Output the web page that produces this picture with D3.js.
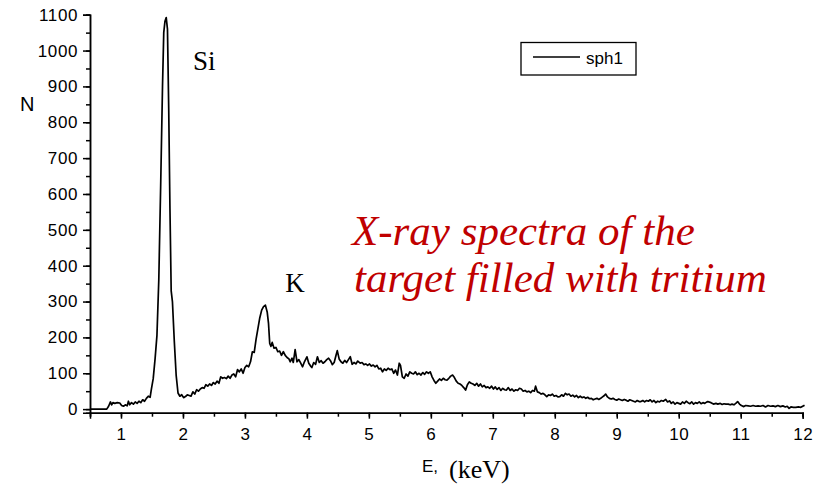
<html>
<head>
  <script type="text/javascript" src="https://cdn.jsdelivr.net/npm/d3@7"></script>
  <style>
  body { margin: 0; background: #fff; }
  .tick text { font-family: "Liberation Sans", Arial, sans-serif; font-size: 17px; letter-spacing: 0.6px; fill: #000; }
  .domain, .tick line { stroke: #000; stroke-width: 1.5; }
  </style>
</head>
<body>

<script type="text/javascript">
// energy (keV) and counts
var energy = [
  0.50, 0.60, 0.70, 0.77, 0.80, 0.83, 0.85, 0.87, 0.90, 0.94, 0.98, 1.01, 1.04, 1.07, 1.10, 1.12, 1.14, 1.17, 1.20, 1.23,
  1.26, 1.29, 1.32, 1.35, 1.38, 1.41, 1.44, 1.47, 1.49, 1.52, 1.55, 1.58, 1.61, 1.64, 1.67, 1.69, 1.71, 1.73, 1.75, 1.77,
  1.79, 1.81, 1.83, 1.86, 1.89, 1.92, 1.95, 1.98, 2.01, 2.04, 2.07, 2.10, 2.13, 2.16, 2.19, 2.22, 2.25, 2.28, 2.31, 2.34,
  2.37, 2.40, 2.43, 2.46, 2.49, 2.52, 2.55, 2.58, 2.61, 2.64, 2.67, 2.70, 2.73, 2.76, 2.79, 2.82, 2.85, 2.88, 2.91, 2.94,
  2.97, 3.00, 3.03, 3.06, 3.09, 3.12, 3.15, 3.18, 3.21, 3.24, 3.27, 3.30, 3.33, 3.36, 3.38, 3.40, 3.42, 3.44, 3.47, 3.50,
  3.53, 3.56, 3.59, 3.62, 3.65, 3.68, 3.71, 3.73, 3.76, 3.78, 3.81, 3.84, 3.87, 3.90, 3.93, 3.96, 4.00, 4.03, 4.06, 4.08,
  4.11, 4.14, 4.17, 4.20, 4.23, 4.26, 4.29, 4.32, 4.35, 4.38, 4.41, 4.44, 4.47, 4.49, 4.52, 4.55, 4.58, 4.61, 4.64, 4.67,
  4.70, 4.73, 4.76, 4.79, 4.82, 4.86, 4.89, 4.92, 4.95, 4.98, 5.01, 5.04, 5.07, 5.10, 5.13, 5.16, 5.19, 5.22, 5.25, 5.28,
  5.31, 5.34, 5.37, 5.40, 5.43, 5.46, 5.49, 5.51, 5.54, 5.57, 5.60, 5.63, 5.66, 5.69, 5.72, 5.75, 5.78, 5.81, 5.84, 5.87,
  5.90, 5.93, 5.96, 5.99, 6.02, 6.05, 6.08, 6.11, 6.14, 6.17, 6.20, 6.23, 6.26, 6.29, 6.32, 6.35, 6.38, 6.41, 6.44, 6.47,
  6.50, 6.53, 6.56, 6.59, 6.62, 6.65, 6.68, 6.71, 6.74, 6.77, 6.80, 6.83, 6.86, 6.89, 6.92, 6.95, 6.98, 7.01, 7.04, 7.07,
  7.10, 7.13, 7.16, 7.19, 7.22, 7.25, 7.28, 7.31, 7.34, 7.37, 7.40, 7.43, 7.46, 7.49, 7.52, 7.55, 7.58, 7.61, 7.64, 7.67,
  7.69, 7.72, 7.75, 7.78, 7.81, 7.84, 7.87, 7.90, 7.93, 7.96, 7.99, 8.02, 8.05, 8.08, 8.11, 8.14, 8.17, 8.20, 8.23, 8.26,
  8.29, 8.32, 8.35, 8.38, 8.41, 8.44, 8.47, 8.50, 8.53, 8.56, 8.59, 8.62, 8.65, 8.68, 8.71, 8.74, 8.77, 8.80, 8.82, 8.85,
  8.88, 8.91, 8.94, 8.97, 9.00, 9.03, 9.06, 9.09, 9.12, 9.15, 9.18, 9.21, 9.24, 9.27, 9.30, 9.33, 9.36, 9.39, 9.42, 9.45,
  9.48, 9.51, 9.54, 9.57, 9.60, 9.63, 9.66, 9.69, 9.72, 9.75, 9.79, 9.82, 9.85, 9.88, 9.91, 9.94, 9.97, 10.00, 10.03, 10.06,
  10.09, 10.12, 10.15, 10.18, 10.21, 10.24, 10.27, 10.30, 10.33, 10.36, 10.39, 10.42, 10.46, 10.49, 10.52, 10.56, 10.60, 10.63, 10.67, 10.70,
  10.73, 10.76, 10.80, 10.83, 10.86, 10.89, 10.92, 10.95, 10.98, 11.01, 11.05, 11.08, 11.12, 11.16, 11.20, 11.24, 11.28, 11.32, 11.36, 11.40,
  11.44, 11.48, 11.52, 11.56, 11.60, 11.64, 11.68, 11.72, 11.75, 11.78, 11.81, 11.85, 11.89, 11.93, 11.97, 12.00, 12.03
];
var counts = [
  0, 0, 0, 0, 8, 20, 12, 18, 16, 18, 17, 10, 8, 12, 9, 22, 12, 18, 14, 20,
  16, 22, 18, 26, 22, 30, 36, 33, 55, 85, 140, 205, 360, 620, 900, 1050, 1082, 1092, 1060, 840,
  560, 330, 300, 190, 95, 45, 36, 40, 32, 35, 40, 38, 36, 48, 42, 54, 50, 56, 60, 58,
  68, 64, 70, 66, 74, 70, 78, 72, 90, 86, 88, 85, 92, 86, 95, 98, 90, 110, 104, 112,
  100, 116, 122, 118, 132, 160, 158, 195, 225, 255, 276, 286, 290, 270, 240, 183, 175, 186, 170, 172,
  160, 162, 150, 160, 150, 144, 140, 132, 142, 130, 166, 132, 138, 128, 118, 132, 146, 128, 120, 116,
  130, 125, 146, 130, 135, 128, 132, 138, 142, 135, 124, 130, 150, 163, 140, 132, 128, 136, 130, 138,
  146, 125, 130, 126, 134, 128, 130, 124, 126, 122, 126, 120, 123, 118, 122, 112, 114, 104, 112, 108,
  114, 110, 112, 100, 109, 95, 128, 122, 90, 86, 98, 92, 104, 100, 98, 104, 96, 100, 95, 102,
  97, 104, 100, 104, 90, 80, 72, 78, 84, 80, 86, 82, 81, 86, 92, 95, 88, 78, 72, 70,
  66, 60, 53, 68, 76, 72, 70, 66, 72, 64, 70, 62, 66, 60, 62, 58, 64, 56, 62, 55,
  60, 52, 58, 54, 53, 60, 52, 56, 50, 54, 52, 58, 56, 50, 52, 48, 50, 46, 52, 50,
  64, 48, 46, 42, 44, 40, 35, 40, 38, 42, 36, 38, 34, 35, 40, 36, 44, 40, 42, 36,
  39, 34, 38, 32, 36, 32, 34, 30, 33, 29, 30, 26, 28, 30, 27, 30, 34, 38, 42, 34,
  30, 28, 30, 27, 25, 28, 26, 24, 27, 25, 22, 26, 24, 22, 20, 24, 21, 21, 24, 20,
  24, 22, 26, 20, 24, 18, 22, 20, 24, 22, 27, 20, 23, 16, 20, 14, 18, 16, 14, 20,
  16, 22, 18, 15, 20, 14, 18, 16, 20, 15, 18, 16, 21, 20, 18, 14, 16, 14, 16, 13,
  15, 14, 14, 12, 14, 12, 16, 21, 14, 10, 7, 10, 9, 8, 10, 8, 9, 8, 10, 6,
  10, 8, 9, 7, 10, 7, 9, 6, 8, 2, 6, 5, 5, 6, 5, 8, 11
];
var xTicks = [1, 2, 3, 4, 5, 6, 7, 8, 9, 10, 11, 12];
var yTicks = [0, 100, 200, 300, 400, 500, 600, 700, 800, 900, 1000, 1100];
var seriesName = "sph1";
var peakLabels = [{name: "Si", e: 2.16, n: 946}, {name: "K", e: 3.65, n: 327}];
var titleLines = ["X-ray spectra of the", "target filled with tritium"];

var W = 816, H = 486;
var plotLeft = 90, plotRight = 802.7, plotTop = 14.7, plotBottom = 412.7;

var svg = d3.select("body").append("svg")
    .attr("width", W)
    .attr("height", H);

var x = d3.scaleLinear().domain([0.5, 12]).range([plotLeft, plotRight]);
var y = d3.scaleLinear().domain([-10, 1100]).range([plotBottom, plotTop]);

// minor ticks first, then the major axis with labels
var xMinor = d3.range(0.5, 12.01, 0.5);
var yMinor = d3.range(0, 1101, 50);

svg.append("g")
    .attr("transform", "translate(0," + plotBottom + ")")
    .call(d3.axisBottom(x).tickValues(xMinor).tickSize(4).tickFormat(""));
svg.append("g")
    .attr("transform", "translate(0," + plotBottom + ")")
    .call(d3.axisBottom(x).tickValues(xTicks).tickSize(6).tickPadding(9).tickFormat(d3.format("d")));

svg.append("g")
    .attr("transform", "translate(" + plotLeft + ",0)")
    .call(d3.axisLeft(y).tickValues(yMinor).tickSize(4).tickFormat(""));
svg.append("g")
    .attr("transform", "translate(" + plotLeft + ",0)")
    .call(d3.axisLeft(y).tickValues(yTicks).tickSize(7).tickPadding(5).tickFormat(d3.format("d")));

var data = energy.map(function(e, i) { return [e, counts[i]]; });

svg.append("path")
    .datum(data)
    .attr("fill", "none")
    .attr("stroke", "#000")
    .attr("stroke-width", 1.7)
    .attr("stroke-linejoin", "round")
    .attr("d", d3.line()
      .x(function(d) { return x(d[0]); })
      .y(function(d) { return y(d[1]); }));

// axis titles
svg.append("text")
    .attr("x", 20).attr("y", 111)
    .style("font-family", "'Liberation Sans', Arial, sans-serif")
    .style("font-size", "20px")
    .text("N");

svg.append("text")
    .attr("x", 422).attr("y", 472)
    .style("font-family", "'Liberation Sans', Arial, sans-serif")
    .style("font-size", "17px")
    .text("E,");
svg.append("text")
    .attr("x", 449).attr("y", 478)
    .style("font-family", "'Liberation Serif', 'Times New Roman', serif")
    .style("font-size", "26px")
    .text("(keV)");

// peak labels
svg.selectAll(".peak")
    .data(peakLabels)
    .enter().append("text")
    .attr("class", "peak")
    .attr("x", function(d) { return x(d.e); })
    .attr("y", function(d) { return y(d.n); })
    .style("font-family", "'Liberation Serif', 'Times New Roman', serif")
    .style("font-size", "27px")
    .text(function(d) { return d.name; });

// red caption
svg.selectAll(".caption")
    .data(titleLines)
    .enter().append("text")
    .attr("class", "caption")
    .attr("x", function(d, i) { return i == 0 ? 352 : 354; })
    .attr("y", function(d, i) { return 245 + i * 47; })
    .style("font-family", "'Liberation Serif', 'Times New Roman', serif")
    .style("font-style", "italic")
    .style("font-size", "43px")
    .style("fill", "#c00000")
    .text(function(d) { return d; });

// legend
var lg = svg.append("g");
lg.append("rect")
    .attr("x", 521).attr("y", 42.5)
    .attr("width", 115).attr("height", 32.5)
    .attr("fill", "none")
    .attr("stroke", "#000")
    .attr("stroke-width", 1.3);
lg.append("line")
    .attr("x1", 533).attr("x2", 580)
    .attr("y1", 57).attr("y2", 57)
    .attr("stroke", "#000")
    .attr("stroke-width", 1.6);
lg.append("text")
    .attr("x", 586).attr("y", 64)
    .style("font-family", "'Liberation Sans', Arial, sans-serif")
    .style("font-size", "17px")
    .text(seriesName);
</script>

</body>
</html>
